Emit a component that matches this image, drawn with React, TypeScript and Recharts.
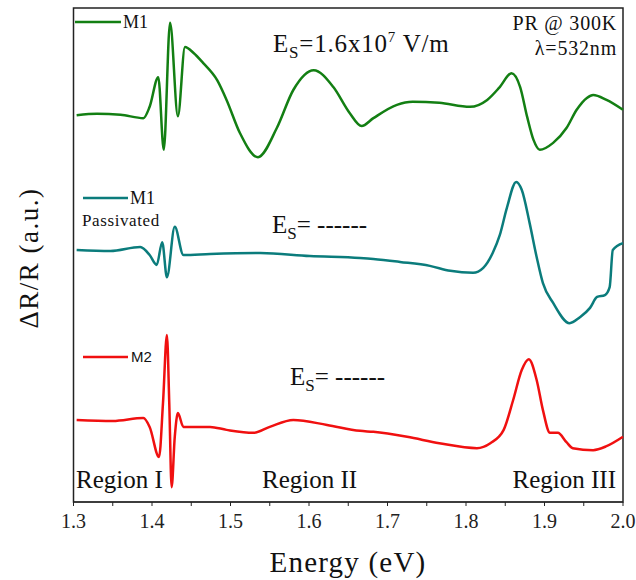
import React from 'react';
import { LineChart, Line, XAxis, YAxis, ReferenceArea } from 'recharts';

// photoreflectance spectra, offset vertically (arbitrary units)
const m1Energy = [1.304, 1.33, 1.36, 1.389, 1.397, 1.408, 1.415, 1.423, 1.433, 1.442, 1.453, 1.465, 1.483, 1.495, 1.512, 1.535, 1.559, 1.58, 1.606, 1.631, 1.652, 1.667, 1.682, 1.712, 1.732, 1.766, 1.805, 1.827, 1.843, 1.858, 1.869, 1.878, 1.886, 1.894, 1.911, 1.928, 1.941, 1.954, 1.962, 1.979, 2.0];
const m1Signal = [78.3, 78.6, 78.4, 77.7, 80.0, 86.0, 71.3, 97.0, 78.1, 92.1, 90.9, 88.9, 85.4, 81.4, 74.7, 69.8, 75.7, 83.4, 87.4, 84.0, 78.7, 76.1, 77.7, 80.4, 81.0, 80.8, 80.0, 81.4, 84.0, 86.8, 84.0, 77.9, 73.3, 71.3, 72.7, 75.7, 79.4, 81.8, 82.4, 81.4, 79.4];

const m1pEnergy = [1.304, 1.347, 1.385, 1.397, 1.406, 1.413, 1.419, 1.429, 1.44, 1.474, 1.538, 1.601, 1.665, 1.682, 1.716, 1.754, 1.78, 1.809, 1.822, 1.834, 1.843, 1.852, 1.864, 1.871, 1.881, 1.89, 1.898, 1.911, 1.932, 1.945, 1.958, 1.967, 1.977, 1.983, 1.987, 2.0];
const m1pSignal = [51.0, 50.8, 51.6, 50.0, 48.0, 52.6, 45.5, 55.7, 50.0, 50.2, 50.4, 49.8, 49.4, 49.2, 48.6, 47.8, 46.8, 46.4, 47.4, 50.4, 54.0, 59.5, 64.8, 63.2, 56.5, 49.6, 44.3, 40.3, 36.2, 37.4, 39.3, 41.5, 41.9, 43.5, 51.0, 52.4];

const m2Energy = [1.304, 1.35, 1.389, 1.397, 1.409, 1.414, 1.419, 1.422, 1.425, 1.429, 1.433, 1.44, 1.474, 1.495, 1.529, 1.55, 1.58, 1.623, 1.665, 1.682, 1.725, 1.766, 1.814, 1.831, 1.848, 1.86, 1.871, 1.88, 1.89, 1.898, 1.907, 1.917, 1.928, 1.936, 1.962, 1.979, 2.0];
const m2Signal = [16.6, 16.4, 17.0, 15.2, 9.1, 20.0, 33.8, 20.0, 3.0, 13.2, 18.0, 15.2, 15.2, 14.6, 14.0, 15.2, 16.6, 15.6, 14.4, 14.2, 13.2, 11.9, 10.9, 11.9, 14.6, 20.6, 26.7, 28.9, 24.7, 18.6, 14.0, 14.0, 12.1, 10.9, 10.5, 11.3, 13.2];

const energyTicks = [1.3, 1.35, 1.4, 1.45, 1.5, 1.55, 1.6, 1.65, 1.7, 1.75, 1.8, 1.85, 1.9, 1.95, 2.0];

const toRows = (xs: number[], ys: number[]) => xs.map((e, i) => ({ e, v: ys[i] }));
const m1Data = toRows(m1Energy, m1Signal);
const m1pData = toRows(m1pEnergy, m1pSignal);
const m2Data = toRows(m2Energy, m2Signal);

const GREEN = '#137f13';
const TEAL = '#0b7c7c';
const RED = '#f01010';
const SERIF = '"Liberation Serif", "Times New Roman", serif';
const SANS = '"Liberation Sans", Arial, sans-serif';

const fmtTick = (v: number) => (Math.round(v * 100) % 10 === 0 ? v.toFixed(1) : '');

const serif = { fontFamily: SERIF };

export default function App() {
  return (
    <div style={{ position: 'absolute', left: 0, top: 0, width: 636, height: 580, background: '#fff', fontFamily: SERIF }}>
      <LineChart
        width={636}
        height={580}
        margin={{ top: 8, right: 13, left: 73.5, bottom: 0 }}
      >
        <XAxis
          dataKey="e"
          type="number"
          domain={[1.3, 2.0]}
          ticks={energyTicks}
          tickFormatter={fmtTick}
          height={78}
          tickSize={4}
          tickMargin={8}
          stroke="#222"
          tick={{ fontSize: 20, fill: '#222', style: serif }}
          interval={0}
        />
        <YAxis type="number" domain={[0, 100]} hide />
        <ReferenceArea x1={1.3} x2={2.0} y1={0} y2={100} fill="none" stroke="#222" strokeWidth={1.5} ifOverflow="visible" />
        <Line data={m1Data} dataKey="v" type="monotone" stroke={GREEN} strokeWidth={2.5} dot={false} isAnimationActive={false} />
        <Line data={m1pData} dataKey="v" type="monotone" stroke={TEAL} strokeWidth={2.5} dot={false} isAnimationActive={false} />
        <Line data={m2Data} dataKey="v" type="monotone" stroke={RED} strokeWidth={2.5} dot={false} isAnimationActive={false} />
      </LineChart>
      <svg width={636} height={580} style={{ position: 'absolute', left: 0, top: 0, pointerEvents: 'none', fontFamily: SERIF }} fill="#111">
        {/* legend samples */}
        <line x1={75} x2={121} y1={22} y2={22} stroke={GREEN} strokeWidth={2.5} />
        <text x={123} y={28} fontSize={18} style={serif}>M1</text>
        <line x1={83} x2={128} y1={198} y2={198} stroke={TEAL} strokeWidth={2.5} />
        <text x={130} y={204} fontSize={18} style={serif}>M1</text>
        <text x={82} y={226} fontSize={17} letterSpacing={0.6} style={serif}>Passivated</text>
        <line x1={83} x2={128} y1={357} y2={357} stroke={RED} strokeWidth={2.5} />
        <text x={131} y={362} fontSize={15} style={{ fontFamily: SANS }}>M2</text>

        {/* field annotations */}
        <text x={273} y={52} fontSize={25} letterSpacing={0.8} style={serif}>
          E<tspan fontSize={17} dy={6}>S</tspan>
          <tspan dy={-6}>=1.6x10</tspan>
          <tspan fontSize={15} dy={-10}>7</tspan>
          <tspan dy={10}> V/m</tspan>
        </text>
        <text x={617} y={30} fontSize={20} textAnchor="end" letterSpacing={0.8} style={serif}>PR @ 300K</text>
        <text x={617} y={55} fontSize={20} textAnchor="end" letterSpacing={0.8} style={serif}>λ=532nm</text>

        <text x={272} y={233} fontSize={25} style={serif}>
          E<tspan fontSize={17} dy={6}>S</tspan>
          <tspan dy={-6}>= ------</tspan>
        </text>
        <text x={290} y={385} fontSize={25} style={serif}>
          E<tspan fontSize={17} dy={6}>S</tspan>
          <tspan dy={-6}>= ------</tspan>
        </text>

        <text x={76} y={488} fontSize={25} style={serif}>Region I</text>
        <text x={262} y={488} fontSize={25} style={serif}>Region II</text>
        <text x={616} y={488} fontSize={25} textAnchor="end" style={serif}>Region III</text>

        {/* axis titles */}
        <text x={348} y={572} fontSize={29} textAnchor="middle" letterSpacing={1.2} style={serif}>Energy (eV)</text>
        <text x={38} y={258} fontSize={27} textAnchor="middle" letterSpacing={1.5} transform="rotate(-90 38 258)" style={serif}>ΔR/R (a.u.)</text>
      </svg>
    </div>
  );
}
